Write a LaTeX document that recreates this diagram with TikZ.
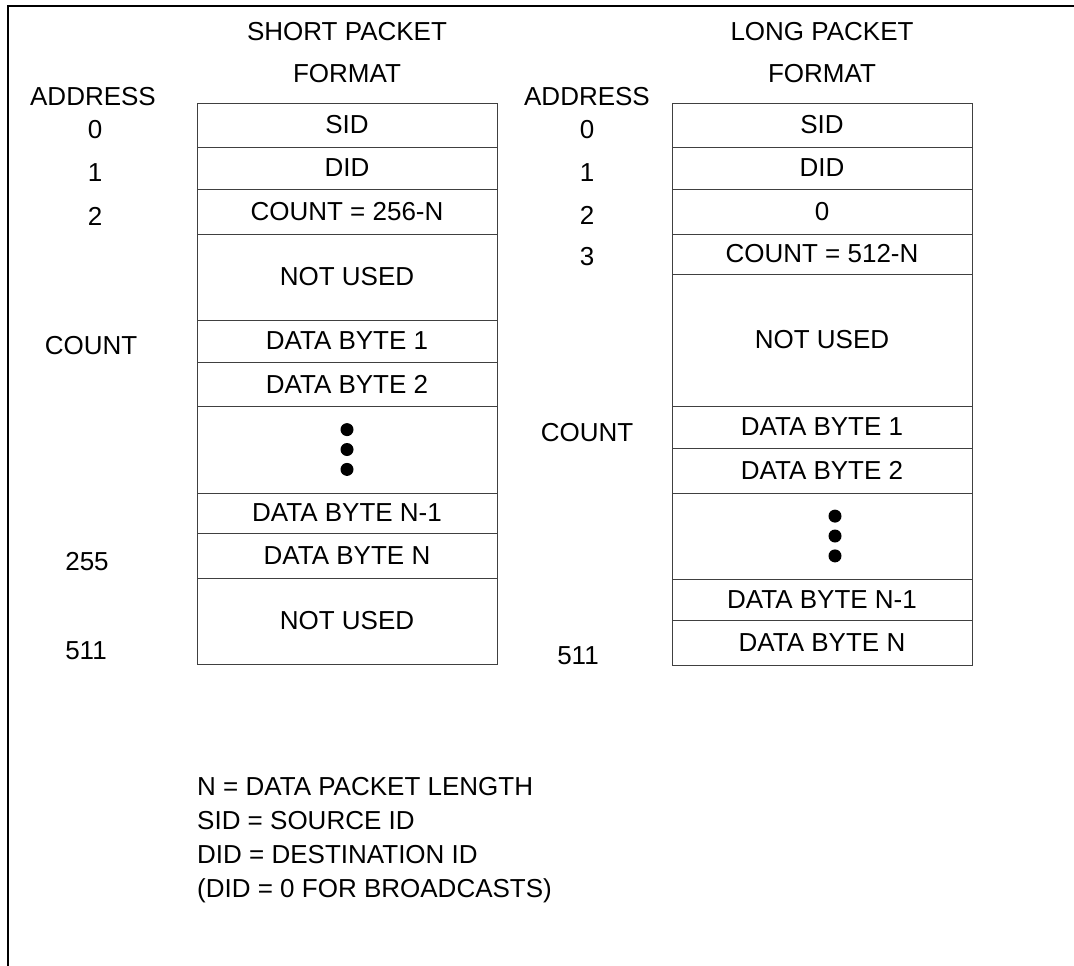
\documentclass[tikz,border=0pt]{standalone}
\usepackage{fontspec}
\setmainfont{Liberation Sans}
\usetikzlibrary{positioning}

\begin{document}
\begin{tikzpicture}[x=1pt,y=-1pt,node distance=0pt,font=\fontsize{26}{31}\selectfont]
       \tikzstyle{cell}=[draw=black!75,line width=1pt,minimum width=300pt,inner sep=0pt,outer sep=0pt]
       \tikzstyle{lbl}=[inner sep=0pt,anchor=base]
       \tikzstyle{dot}=[circle,fill=black,inner sep=0pt,minimum size=13pt]

       \useasboundingbox (0,0) rectangle (1074,966);
       \draw[line width=2.5pt] (1074,6) -- (8,6) -- (8,966);

       % short packet
       \node[lbl] (s_title1) at (347,41) {SHORT PACKET};
       \node[lbl] (s_title2) at (347,82) {FORMAT};
       \node[cell,anchor=north,minimum height=44pt] (s_sid) at (347,103) {SID};
       \node[cell,minimum height=42pt,below=of s_sid] (s_did) {DID};
       \node[cell,minimum height=45pt,below=of s_did] (s_count) {COUNT = 256-N};
       \node[cell,minimum height=86pt,below=of s_count] (s_free1) {NOT USED};
       \node[cell,minimum height=42pt,below=of s_free1] (s_byte1) {DATA BYTE 1};
       \node[cell,minimum height=44pt,below=of s_byte1] (s_byte2) {DATA BYTE 2};
       \node[cell,minimum height=87pt,below=of s_byte2] (s_dots) {};
       \node[cell,minimum height=40pt,below=of s_dots] (s_byten1) {DATA BYTE N-1};
       \node[cell,minimum height=45pt,below=of s_byten1] (s_byten) {DATA BYTE N};
       \node[cell,minimum height=86pt,below=of s_byten] (s_free2) {NOT USED};
       \node[dot] (s_dot2) at (s_dots.center) {};
       \node[dot,above=6.5pt of s_dot2] (s_dot1) {};
       \node[dot,below=6.5pt of s_dot2] (s_dot3) {};

       \node[lbl] (s_addr) at (93,106) {ADDRESS};
       \node[lbl] (s_a0) at (95,138) {0};
       \node[lbl] (s_a1) at (95,181) {1};
       \node[lbl] (s_a2) at (95,225) {2};
       \node[lbl] (s_acount) at (91,354) {COUNT};
       \node[lbl] (s_a255) at (87,570) {255};
       \node[lbl] (s_a511) at (86,659) {511};

       % long packet
       \node[lbl] (l_title1) at (822,41) {LONG PACKET};
       \node[lbl] (l_title2) at (822,82) {FORMAT};
       \node[cell,anchor=north,minimum height=44pt] (l_sid) at (822,103) {SID};
       \node[cell,minimum height=42pt,below=of l_sid] (l_did) {DID};
       \node[cell,minimum height=45pt,below=of l_did] (l_zero) {0};
       \node[cell,minimum height=40pt,below=of l_zero] (l_count) {COUNT = 512-N};
       \node[cell,minimum height=132pt,below=of l_count] (l_free) {NOT USED};
       \node[cell,minimum height=42pt,below=of l_free] (l_byte1) {DATA BYTE 1};
       \node[cell,minimum height=45pt,below=of l_byte1] (l_byte2) {DATA BYTE 2};
       \node[cell,minimum height=86pt,below=of l_byte2] (l_dots) {};
       \node[cell,minimum height=41pt,below=of l_dots] (l_byten1) {DATA BYTE N-1};
       \node[cell,minimum height=45pt,below=of l_byten1] (l_byten) {DATA BYTE N};
       \node[dot] (l_dot2) at ([xshift=13pt]l_dots.center) {};
       \node[dot,above=6.5pt of l_dot2] (l_dot1) {};
       \node[dot,below=6.5pt of l_dot2] (l_dot3) {};

       \node[lbl] (l_addr) at (587,106) {ADDRESS};
       \node[lbl] (l_a0) at (587,138) {0};
       \node[lbl] (l_a1) at (587,181) {1};
       \node[lbl] (l_a2) at (587,224) {2};
       \node[lbl] (l_a3) at (587,265) {3};
       \node[lbl] (l_acount) at (587,441) {COUNT};
       \node[lbl] (l_a511) at (578,664) {511};

       % key
       \node[lbl,anchor=base west] (key_n) at (197,795) {N = DATA PACKET LENGTH};
       \node[lbl,anchor=base west] (key_sid) at (197,829) {SID = SOURCE ID};
       \node[lbl,anchor=base west] (key_did) at (197,863) {DID = DESTINATION ID};
       \node[lbl,anchor=base west] (key_bc) at (197,897) {(DID = 0 FOR BROADCASTS)};
\end{tikzpicture}
\end{document}
